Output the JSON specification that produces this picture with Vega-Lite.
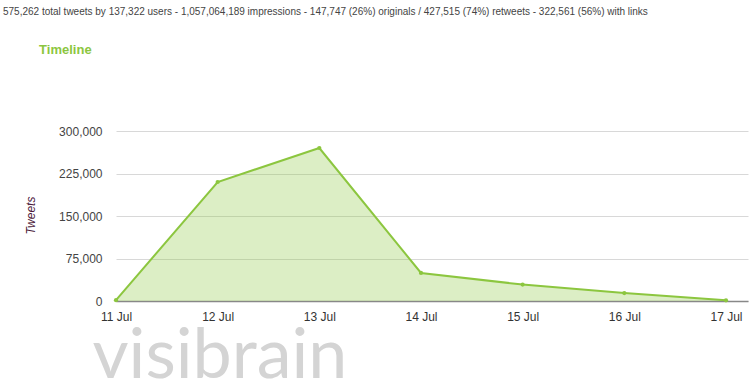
{
  "$schema": "https://vega.github.io/schema/vega-lite/v6.json",
  "autosize": {"type": "none"},
  "width": 632,
  "height": 170,
  "padding": {"left": 116, "top": 131, "right": 2, "bottom": 87},
  "background": "white",
  "config": {"view": {"stroke": null}, "font": "Liberation Sans"},
  "title": {
    "text": "575,262 total tweets by 137,322 users - 1,057,064,189 impressions - 147,747 (26%) originals / 427,515 (74%) retweets - 322,561 (56%) with links",
    "subtitle": "\u200b\u00a0\u00a0\u00a0\u00a0\u00a0\u00a0\u00a0\u00a0\u00a0\u00a0Timeline",
    "anchor": "start",
    "frame": "group",
    "orient": "top",
    "dx": -113,
    "offset": 68,
    "fontSize": 10,
    "fontWeight": "normal",
    "color": "#444444",
    "subtitleFontSize": 13,
    "subtitleFontWeight": "bold",
    "subtitleColor": "#8cc63f",
    "subtitlePadding": 27
  },
  "data": {
    "values": [
      {"date": "2014-07-11", "tweets": 1500},
      {"date": "2014-07-12", "tweets": 210000},
      {"date": "2014-07-13", "tweets": 270000},
      {"date": "2014-07-14", "tweets": 49500},
      {"date": "2014-07-15", "tweets": 29000},
      {"date": "2014-07-16", "tweets": 14000},
      {"date": "2014-07-17", "tweets": 1200}
    ]
  },
  "encoding": {
    "x": {
      "field": "date",
      "type": "temporal",
      "scale": {"domain": [{"year": 2014, "month": 7, "date": 11}, {"year": 2014, "month": 7, "date": 17, "hours": 5, "minutes": 12}]},
      "axis": {
        "values": [{"year": 2014, "month": 7, "date": 11}, {"year": 2014, "month": 7, "date": 12}, {"year": 2014, "month": 7, "date": 13}, {"year": 2014, "month": 7, "date": 14}, {"year": 2014, "month": 7, "date": 15}, {"year": 2014, "month": 7, "date": 16}, {"year": 2014, "month": 7, "date": 17}],
        "format": "%d %b",
        "grid": false,
        "ticks": false,
        "domainColor": "#888888",
        "domainWidth": 1.5,
        "labelFontSize": 12,
        "labelColor": "#333333",
        "labelPadding": 10,
        "labelFlush": false,
        "labelOverlap": false,
        "title": "visibrain",
        "titleFont": "Lato",
        "titleFontWeight": 400,
        "titleFontSize": 70,
        "titleColor": "#d4d4d4",
        "titleAnchor": "start",
        "titleAlign": "left",
        "titleBaseline": "alphabetic",
        "titleX": -24,
        "titleY": 76
      }
    },
    "y": {
      "field": "tweets",
      "type": "quantitative",
      "scale": {"domain": [0, 300000], "nice": false},
      "axis": {
        "values": [0, 75000, 150000, 225000, 300000],
        "format": ",d",
        "domain": false,
        "ticks": false,
        "gridColor": "#d8d8d8",
        "labelFontSize": 12,
        "labelColor": "#444444",
        "labelPadding": 14,
        "title": "Tweets",
        "titleFontStyle": "italic",
        "titleFontWeight": "normal",
        "titleFontSize": 12,
        "titleColor": "#4d1a3a",
        "titleX": -86,
        "titleY": 84,
        "titleAngle": -90,
        "titleAlign": "center",
        "titleBaseline": "middle"
      }
    }
  },
  "layer": [
    {"mark": {"type": "area", "color": "#8cc63f", "opacity": 0.3}},
    {"mark": {"type": "line", "color": "#8cc63f", "strokeWidth": 2}},
    {"mark": {"type": "point", "filled": true, "color": "#8cc63f", "size": 18, "opacity": 1}}
  ]
}
